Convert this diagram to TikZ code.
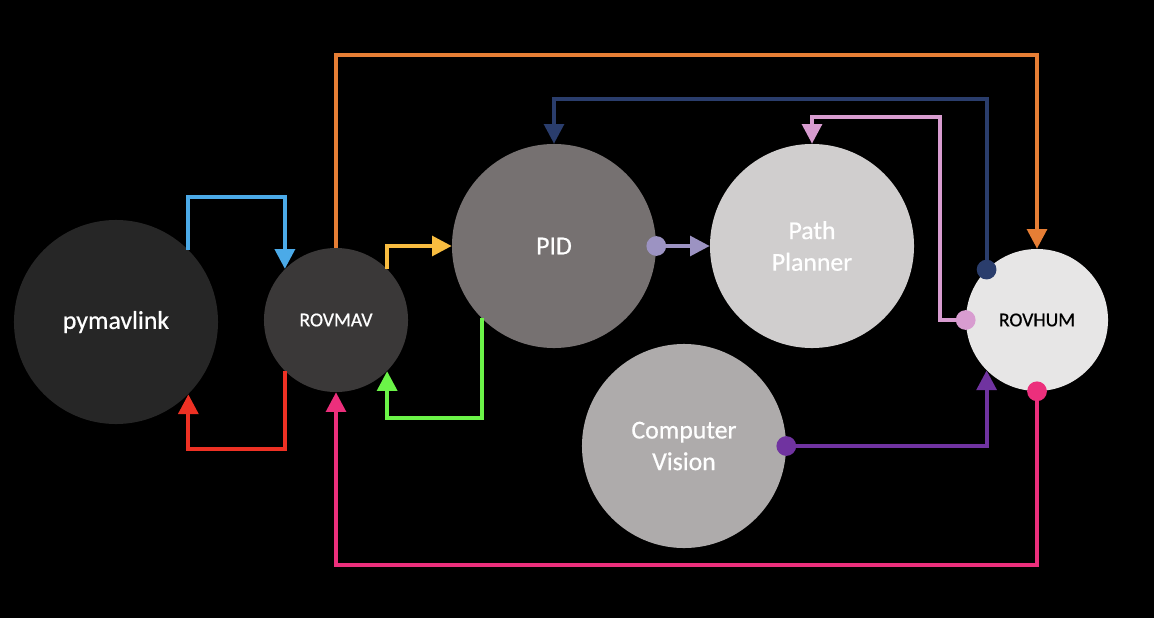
\documentclass[tikz,border=0pt]{standalone}
\usepackage{fontspec}
\setmainfont{Carlito}
\newfontfamily\blobfont{Carlito}[FakeBold=0.6]
\usetikzlibrary{arrows.meta}

\definecolor{cPM}{HTML}{262626}
\definecolor{cRM}{HTML}{3A3838}
\definecolor{cPID}{HTML}{767171}
\definecolor{cPP}{HTML}{D0CECE}
\definecolor{cCV}{HTML}{AEABAB}
\definecolor{cRH}{HTML}{E7E6E6}

\definecolor{lBlue}{HTML}{4BAAE8}
\definecolor{lRed}{HTML}{EE3124}
\definecolor{lOrange}{HTML}{E67E35}
\definecolor{lYellow}{HTML}{F8BC40}
\definecolor{lGreen}{HTML}{6BF448}
\definecolor{lLav}{HTML}{9C93C2}
\definecolor{lNavy}{HTML}{2A3D6C}
\definecolor{lLilac}{HTML}{D89CD0}
\definecolor{lPurple}{HTML}{7033A0}
\definecolor{lPink}{HTML}{EC2F7C}

\tikzset{
  blob/.style={circle,inner sep=0pt,text=white,font=\blobfont\fontsize{18.3}{22.5}\selectfont,align=center},
  smallblob/.style={blob,font=\blobfont\fontsize{14}{16}\selectfont},
  link/.style={line width=2.8pt,-{Triangle[length=14pt,width=14pt]}},
  dotlink/.style={line width=2.8pt,{Circle[length=14pt]}-{Triangle[length=14pt,width=14pt]},shorten <=-7pt},
}

\begin{document}
\begin{tikzpicture}[x=0.025cm,y=-0.025cm]
      \fill[black] (0,0) rectangle (1154,618);
      \useasboundingbox (0,0) rectangle (1154,618);

      \node[blob,fill=cPM,minimum size=5.1cm] (PM) at (116,322) {pymavlink};
      \node[smallblob,fill=cRM,minimum size=3.6cm] (RM) at (336,320) {ROVMAV};
      \node[blob,fill=cPID,minimum size=5.1cm] (PID) at (554,246) {PID};
      \node[blob,fill=cPP,minimum size=5.1cm] (PP) at (812,246) {Path\\Planner};
      \node[blob,fill=cCV,minimum size=5.1cm] (CV) at (684,446) {Computer\\Vision};
      \node[smallblob,fill=cRH,minimum size=3.55cm,text=black] (RH) at (1037,320) {ROVHUM};

      \draw[link,lBlue] (PM.45) -- ++(0,-53) -| (RM.135);
      \draw[link,lRed] (RM.-135) -- ++(0,78) -| (PM.-45);
      \draw[link,lOrange] (RM.north) -- ++(0,-193) -| (RH.north);
      \draw[link,lYellow] (RM.45) |- (PID.west);
      \draw[link,lGreen] (PID.-135) -- ++(0,100) -| (RM.-45);
      \draw[dotlink,lLav] (PID.east) -- (PP.west);
      \draw[dotlink,lNavy] (RH.135) -- ++(0,-171) -| (PID.north);
      \draw[dotlink,lLilac] (RH.west) -- ++(-26,0) -- ++(0,-203) -| (PP.north);
      \draw[dotlink,lPurple] (CV.east) -| (RH.-135);
      \draw[dotlink,lPink] (RH.south) -- ++(0,174) -| (RM.south);
    \end{tikzpicture}
\end{document}
